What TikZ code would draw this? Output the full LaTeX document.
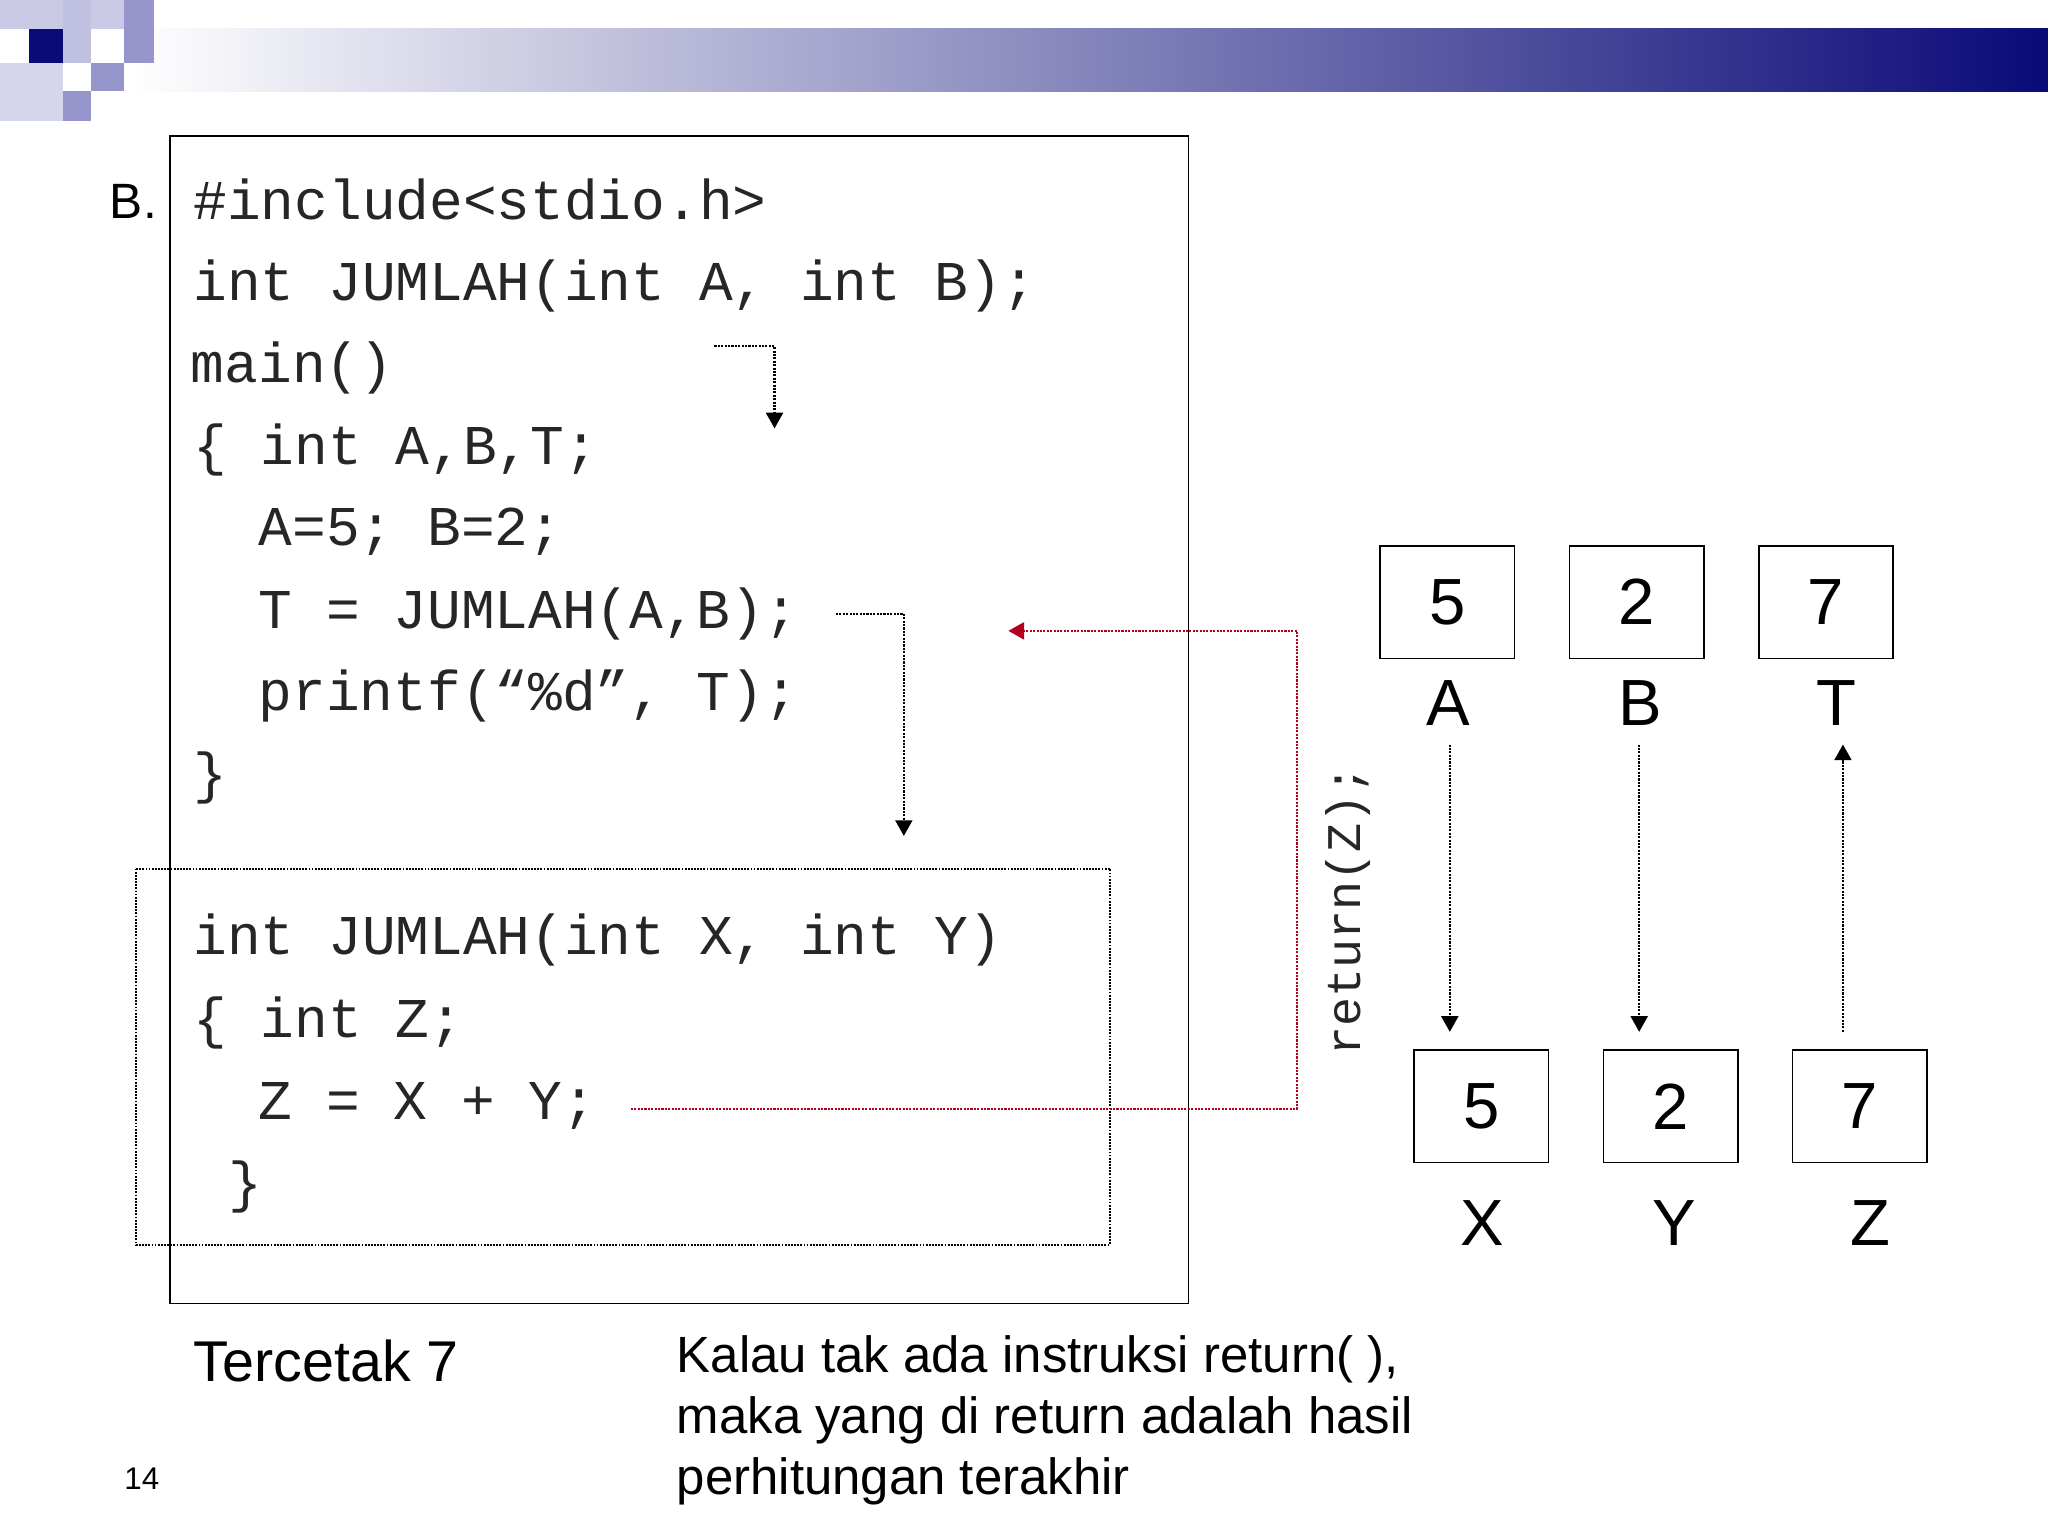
\documentclass[tikz,border=0pt]{standalone}
\usepackage{fontspec}
\setmainfont{Liberation Sans}
\newfontfamily\codefont{Liberation Mono}
\usetikzlibrary{arrows.meta}
\definecolor{navy}{RGB}{10,10,120}
\definecolor{lpur}{RGB}{150,150,205}
\definecolor{dred}{RGB}{180,0,30}
\tikzset{
 code/.style={anchor=base west,inner sep=0,font=\codefont\fontsize{43}{43}\selectfont,text=black!85},
 val/.style={draw,minimum width=103pt,minimum height=86pt,font=\fontsize{50}{50}\selectfont,inner sep=0,line width=1.2pt},
 lab/.style={font=\fontsize{50}{50}\selectfont,inner sep=0},
 dotarr/.style={densely dotted,line width=1.6pt,-{Triangle[length=12pt,width=13pt]}},
}
\begin{document}
\begin{tikzpicture}[x=1pt,y=-1pt]
\useasboundingbox (0,0) rectangle (1568,1176);
% header
\shade[left color=white,right color=navy] (100,22) rectangle (1568,70);
\fill[lpur!50] (0,0) rectangle (118,22);
\fill[lpur!60] (48,0) rectangle (70,48);
\fill[lpur] (95,0) rectangle (118,48);
\fill[lpur] (70,48) rectangle (95,70);
\fill[lpur] (48,70) rectangle (70,93);
\fill[lpur!40] (0,48) rectangle (48,93);
\fill[navy] (22,22) rectangle (48,48);
% boxes
\draw[line width=1.2pt] (130,104) rectangle (910,998);
\draw[densely dotted,line width=1.4pt] (104,665) rectangle (850,953);
\node[lab,anchor=base west,font=\fontsize{38}{38}\selectfont] (bl) at (84,167) {B.};
\node[code] (l1) at (148,168) {\#include<stdio.h>};
\node[code] (l2) at (148,230) {int JUMLAH(int A, int B);};
\node[code] (l3) at (146,293) {main()};
\node[code] (l4) at (148,356) {\{ int A,B,T;};
\node[code] (l5) at (198,418) {A=5; B=2;};
\node[code] (l6) at (198,481) {T = JUMLAH(A,B);};
\node[code] (l7) at (198,544) {printf(“\%d”, T);};
\node[code] (l8) at (148,607) {\}};
\node[code] (m1) at (148,731) {int JUMLAH(int X, int Y)};
\node[code] (m2) at (148,794) {\{ int Z;};
\node[code] (m3) at (198,857) {Z = X + Y;};
\node[code] (m4) at (175,920) {\}};
% arrows
\coordinate (a1) at (547,265); \coordinate (a2) at (593,328);
\draw[dotarr] (a1) -| (a2);
\coordinate (b1) at (640,470); \coordinate (b2) at (692,640);
\draw[dotarr] (b1) -| (b2);
\coordinate (r1) at (483,849); \coordinate (r2) at (993,483); \coordinate (r3) at (772,483);
\draw[dotarr,dred] (r1) -| (r2) -- (r3);
\node[font=\codefont\fontsize{37}{37}\selectfont,rotate=90,text=black!85] (ret) at (1032,697) {return(Z);};
% values
\node[val] (vA) at (1108,461) {5};
\node[val] (vB) at (1253,461) {2};
\node[val] (vT) at (1398,461) {7};
\node[val] (vX) at (1134,847) {5};
\node[val] (vY) at (1279,847) {2};
\node[val] (vZ) at (1424,847) {7};
\node[lab] (lA) at (1109,538) {A};
\node[lab] (lB) at (1256,538) {B};
\node[lab] (lT) at (1406,538) {T};
\node[lab] (lX) at (1135,936) {X};
\node[lab] (lY) at (1282,936) {Y};
\node[lab] (lZ) at (1432,936) {Z};
\coordinate (pA1) at (1110,570); \coordinate (pA2) at (1110,790);
\coordinate (pB1) at (1255,570); \coordinate (pB2) at (1255,790);
\coordinate (pT1) at (1411,790); \coordinate (pT2) at (1411,570);
\draw[dotarr] (pA1) -- (pA2);
\draw[dotarr] (pB1) -- (pB2);
\draw[dotarr] (pT1) -- (pT2);
% bottom text
\node[anchor=base west,inner sep=0,font=\fontsize{44}{44}\selectfont] (tc) at (148,1058) {Tercetak 7};
\node[anchor=north west,inner sep=0,align=left,font=\fontsize{39}{47}\selectfont] (kt) at (518,1022) {Kalau tak ada instruksi return( ),\\maka yang di return adalah hasil\\perhitungan terakhir};
\node[anchor=base west,inner sep=0,font=\fontsize{24}{24}\selectfont] (pg) at (95,1140) {14};
\end{tikzpicture}
\end{document}
